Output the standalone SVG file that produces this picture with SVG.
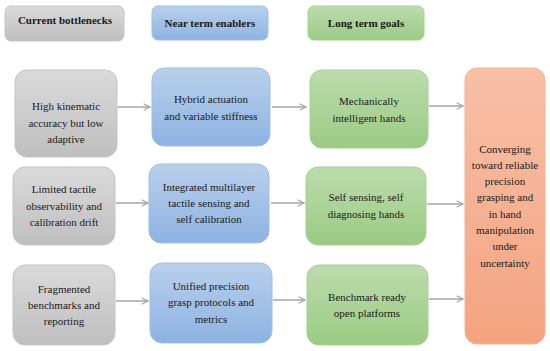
<svg xmlns="http://www.w3.org/2000/svg" width="550" height="351" viewBox="0 0 550 351">
<defs>
<linearGradient id="gGray" x1="0" y1="0" x2="0" y2="1"><stop offset="0" stop-color="#dadada"/><stop offset="1" stop-color="#bfbfbf"/></linearGradient>
<linearGradient id="gBlue" x1="0" y1="0" x2="0" y2="1"><stop offset="0" stop-color="#b9d0ec"/><stop offset="1" stop-color="#8db3e2"/></linearGradient>
<linearGradient id="gGreen" x1="0" y1="0" x2="0" y2="1"><stop offset="0" stop-color="#bcdcae"/><stop offset="1" stop-color="#9bcb83"/></linearGradient>
<linearGradient id="gOrange" x1="0" y1="0" x2="0" y2="1"><stop offset="0" stop-color="#f8c0a6"/><stop offset="1" stop-color="#f4a380"/></linearGradient>
<marker id="arr" viewBox="0 0 10 10" refX="9" refY="5" markerWidth="8" markerHeight="8" markerUnits="userSpaceOnUse" orient="auto">
<path d="M1,1 L9,5 L1,9" fill="none" stroke="#a6a6a6" stroke-width="1.4"/>
</marker>
</defs>
<style>
text{font-family:"Liberation Serif","Times New Roman",serif;font-size:11px;fill:#1a1a1a;text-anchor:middle}
.h{font-weight:bold}
.gray{fill:url(#gGray);stroke:#c4c4c4;stroke-width:1}
.blue{fill:url(#gBlue);stroke:#9fbfe6;stroke-width:1}
.green{fill:url(#gGreen);stroke:#a6d190;stroke-width:1}
.orange{fill:url(#gOrange);stroke:#f6b296;stroke-width:1}
.c{stroke:#a6a6a6;stroke-width:1.5;fill:none;marker-end:url(#arr)}
</style>
<g id="hdr-bottlenecks"><rect class="gray" x="5" y="6" width="119" height="35" rx="6"/><text class="h" x="65" y="24">Current bottlenecks</text></g>
<g id="hdr-enablers"><rect class="blue" x="152" y="6" width="116" height="34" rx="6"/><text class="h" x="210" y="27">Near term enablers</text></g>
<g id="hdr-goals"><rect class="green" x="308" y="6" width="116" height="34" rx="6"/><text class="h" x="366" y="27">Long term goals</text></g>

<g id="b1"><rect class="gray" x="15" y="70" width="102" height="87" rx="12"/><text x="66" y="110">High kinematic</text><text x="66" y="126.5">accuracy but low</text><text x="66" y="142.5">adaptive</text></g>
<g id="e1"><rect class="blue" x="152" y="68" width="118" height="78" rx="12"/><text x="211" y="103">Hybrid actuation</text><text x="211" y="119.5">and variable stiffness</text></g>
<g id="g1"><rect class="green" x="310" y="70" width="118" height="78" rx="12"/><text x="369" y="105">Mechanically</text><text x="369" y="121.5">intelligent hands</text></g>

<g id="b2"><rect class="gray" x="13" y="167" width="102" height="78" rx="12"/><text x="64" y="193">Limited tactile</text><text x="64" y="209.5">observability and</text><text x="64" y="225.5">calibration drift</text></g>
<g id="e2"><rect class="blue" x="149" y="164" width="120" height="79" rx="12"/><text x="209" y="190.5">Integrated multilayer</text><text x="209" y="207">tactile sensing and</text><text x="209" y="223">self calibration</text></g>
<g id="g2"><rect class="green" x="306" y="167" width="120" height="78" rx="12"/><text x="366" y="201">Self sensing, self</text><text x="366" y="217.5">diagnosing hands</text></g>

<g id="b3"><rect class="gray" x="13" y="265" width="102" height="80" rx="12"/><text x="64" y="292.5">Fragmented</text><text x="64" y="309">benchmarks and</text><text x="64" y="325">reporting</text></g>
<g id="e3"><rect class="blue" x="150" y="263" width="122" height="80" rx="12"/><text x="211" y="289.5">Unified precision</text><text x="211" y="306">grasp protocols  and</text><text x="211" y="322.5">metrics</text></g>
<g id="g3"><rect class="green" x="307" y="265" width="121" height="80" rx="12"/><text x="367" y="300.5">Benchmark ready</text><text x="367" y="317">open platforms</text></g>

<g id="goal"><rect class="orange" x="465" y="68" width="80" height="276" rx="12"/>
<text x="505" y="152.5">Converging</text><text x="505" y="168.8">toward reliable</text><text x="505" y="185">precision</text><text x="505" y="201">grasping and</text><text x="505" y="217.5">in hand</text><text x="505" y="234">manipulation</text><text x="505" y="250">under</text><text x="505" y="266.5">uncertainty</text></g>

<g id="connectors">
<line class="c" x1="118" y1="107" x2="150" y2="107"/>
<line class="c" x1="272" y1="107" x2="306" y2="107"/>
<line class="c" x1="429" y1="106" x2="463" y2="106"/>
<line class="c" x1="116" y1="203" x2="148" y2="203"/>
<line class="c" x1="271" y1="203" x2="304" y2="203"/>
<line class="c" x1="427" y1="204" x2="463" y2="204"/>
<line class="c" x1="116" y1="301" x2="148" y2="301"/>
<line class="c" x1="273" y1="300" x2="305" y2="300"/>
<line class="c" x1="429" y1="299" x2="463" y2="299"/>
</g>
</svg>
